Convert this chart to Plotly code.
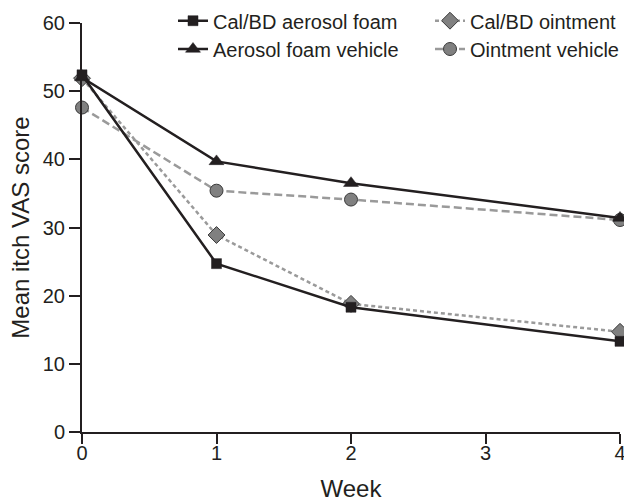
import plotly.graph_objects as go

weeks = [0, 1, 2, 4]
foam = [52.4, 24.7, 18.3, 13.3]
foam_vehicle = [52.0, 39.7, 36.5, 31.4]
ointment = [51.9, 28.9, 18.8, 14.7]
ointment_vehicle = [47.6, 35.4, 34.1, 31.1]

x_ticks = [0, 1, 2, 3, 4]
y_ticks = [0, 10, 20, 30, 40, 50, 60]

BLACK = "#231f20"
GRAY_LINE = "#9a9a9a"
GRAY_FILL = "#808080"
FONT = "Arial"
FS = 20

fig = go.Figure()

fig.add_trace(go.Scatter(
    x=weeks, y=ointment_vehicle, name="Ointment vehicle", mode="lines+markers",
    line=dict(color=GRAY_LINE, width=2.5, dash="8px,4px"),
    marker=dict(symbol="circle", size=13, color=GRAY_FILL, line=dict(color="#3a3a3a", width=1)),
    cliponaxis=False, legend="legend4"))
fig.add_trace(go.Scatter(
    x=weeks, y=ointment, name="Cal/BD ointment", mode="lines+markers",
    line=dict(color=GRAY_LINE, width=2.5, dash="4px,3px"),
    marker=dict(symbol="diamond", size=13, color=GRAY_FILL, line=dict(color="#3a3a3a", width=1)),
    cliponaxis=False, legend="legend3"))
fig.add_trace(go.Scatter(
    x=weeks, y=foam_vehicle, name="Aerosol foam vehicle", mode="lines+markers",
    line=dict(color=BLACK, width=2.5),
    marker=dict(symbol="triangle-up", size=13, color=BLACK, line=dict(color=BLACK, width=0.5)),
    cliponaxis=False, legend="legend2"))
fig.add_trace(go.Scatter(
    x=weeks, y=foam, name="Cal/BD aerosol foam", mode="lines+markers",
    line=dict(color=BLACK, width=2.5),
    marker=dict(symbol="square", size=10, color=BLACK, line=dict(color=BLACK, width=0.5)),
    cliponaxis=False, legend="legend"))

FIG_W = 624
FIG_H = 502
L = 82
T = 23
PLOT_BOTTOM = 432
PLOT_RIGHT = 620
W = PLOT_RIGHT - L
H = PLOT_BOTTOM - T

def px_x(p):
    return (p - L) / W

def px_y(p):
    return (PLOT_BOTTOM - p) / H

leg_common = dict(font=dict(family=FONT, size=FS, color=BLACK), bgcolor="rgba(0,0,0,0)",
                  borderwidth=0, xanchor="left", yanchor="middle", visible=True)

fig.update_layout(
    width=FIG_W, height=FIG_H,
    margin=dict(l=L, r=FIG_W - PLOT_RIGHT, t=T, b=FIG_H - PLOT_BOTTOM, autoexpand=False),
    paper_bgcolor="white", plot_bgcolor="white",
    showlegend=True,
    font=dict(family=FONT, size=FS, color=BLACK),
    legend=dict(x=px_x(173), y=px_y(20.7), **leg_common),
    legend2=dict(x=px_x(173), y=px_y(49), **leg_common),
    legend3=dict(x=px_x(430), y=px_y(20.7), **leg_common),
    legend4=dict(x=px_x(430), y=px_y(49), **leg_common),
    xaxis=dict(range=[0, 4], tickvals=x_ticks, ticktext=[str(v) for v in x_ticks],
               showline=True, linecolor=BLACK, linewidth=2, showgrid=False, zeroline=False,
               ticks="outside", ticklen=10, tickwidth=2, tickcolor=BLACK, automargin=False,
               ticklabelstandoff=-8, ticklabeloverflow="allow",
               title=dict(text="Week", standoff=24), tickfont=dict(size=FS)),
    yaxis=dict(range=[0, 60], tickvals=y_ticks, ticktext=[str(v) for v in y_ticks],
               showline=True, linecolor=BLACK, linewidth=2, showgrid=False, zeroline=False,
               ticks="outside", ticklen=11, tickwidth=2, tickcolor=BLACK, automargin=False,
               ticklabeloverflow="allow",
               title=dict(text="Mean itch VAS score", standoff=6), tickfont=dict(size=FS)),
)

fig.write_html("out.html", config={"displayModeBar": False},
               post_script="document.body.style.margin='0';")
